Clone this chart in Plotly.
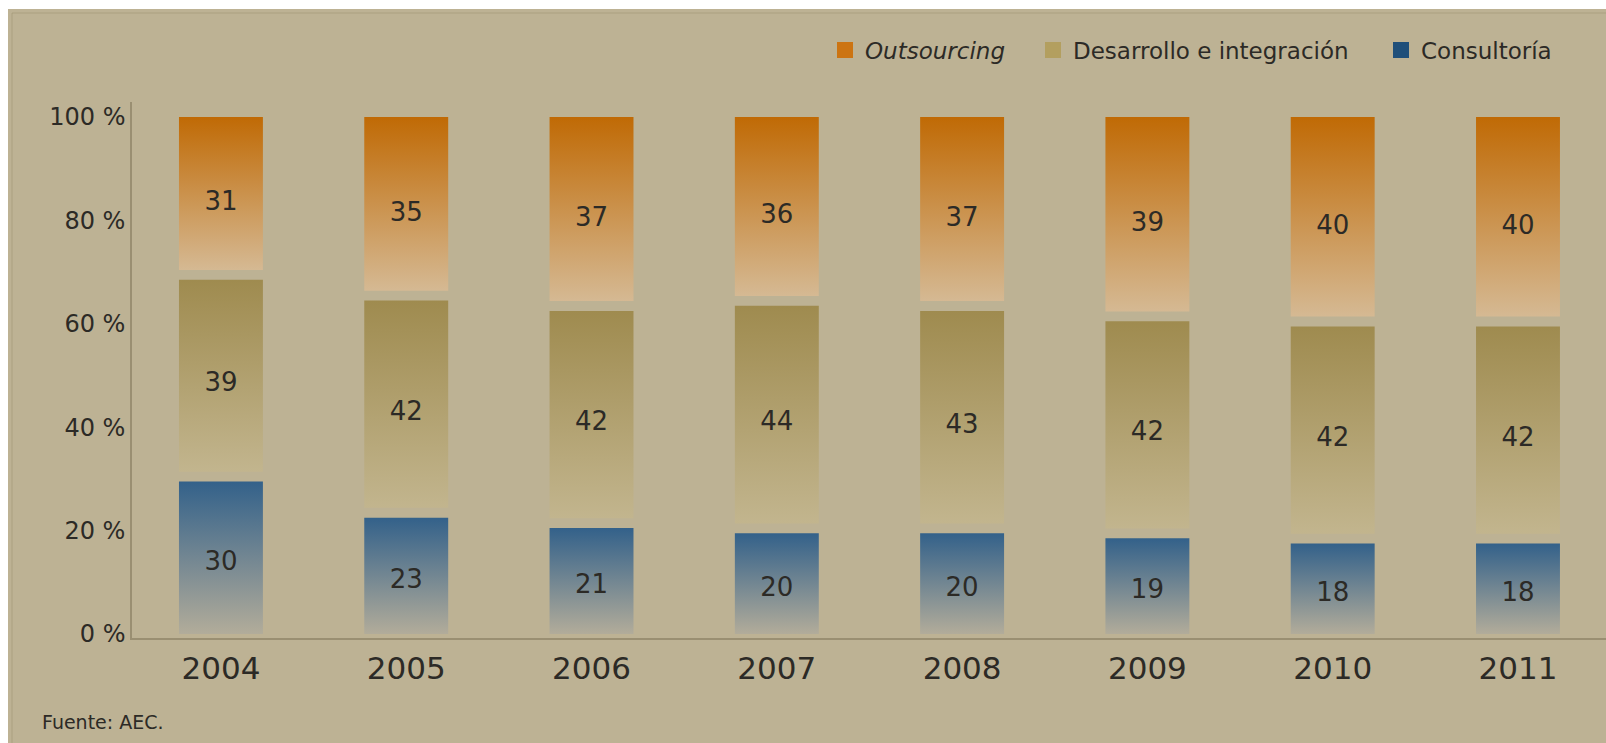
import plotly.graph_objects as go

# Reparto del mercado de servicios TIC por actividad (% sobre el total)
years = ["2004", "2005", "2006", "2007", "2008", "2009", "2010", "2011"]
consultoria = [30, 23, 21, 20, 20, 19, 18, 18]
desarrollo = [39, 42, 42, 44, 43, 42, 42, 42]
outsourcing = [31, 35, 37, 36, 37, 39, 40, 40]

series_names = ["Consultoría", "Desarrollo e integración", "<i>Outsourcing</i>"]
series_values = [consultoria, desarrollo, outsourcing]

y_tick_values = [0, 20, 40, 60, 80, 100]
y_tick_labels = ["0 %", "20 %", "40 %", "60 %", "80 %", "100 %"]

# Styling: (dark top colour, light bottom colour, legend colour)
series_styles = [
    ("#33618a", "#b2ac9a", "#1f4f7a"),
    ("#9f8b4f", "#c2b58e", "#b39f5f"),
    ("#c06a05", "#d5b993", "#cc7412"),
]
legend_ids = ["legend3", "legend2", "legend"]

BG = "#bdb294"
FONT = "DejaVu Sans"
TEXT = "#2c2a26"
BAR_W = 0.453
GAP_BELOW = 0.5   # space left under a segment boundary (% units)
GAP_ABOVE = 1.4   # space left above a segment boundary (% units)

fig = go.Figure()

base = [0] * len(years)
for s, values in enumerate(series_values):
    top_c, bottom_c, _ = series_styles[s]
    for i, v in enumerate(values):
        lo = base[i]
        hi = base[i] + v
        y0 = lo + GAP_ABOVE if lo > 0 else lo
        y1 = hi - GAP_BELOW if hi < 100 else hi
        x0, x1 = i - BAR_W / 2, i + BAR_W / 2
        fig.add_trace(go.Scatter(
            x=[x0, x1, x1, x0, x0],
            y=[y0, y0, y1, y1, y0],
            mode="none",
            fill="toself",
            fillgradient=dict(
                type="vertical",
                colorscale=[[0, bottom_c], [1, top_c]],
                start=y0,
                stop=y1,
            ),
            hoverinfo="skip",
            showlegend=False,
        ))
    # value labels in the middle of each segment
    fig.add_trace(go.Scatter(
        x=list(range(len(years))),
        y=[base[i] + v / 2 - 1.3 for i, v in enumerate(values)],
        mode="text",
        text=[str(v) for v in values],
        textfont=dict(family=FONT, size=26, color=TEXT),
        hoverinfo="skip",
        showlegend=False,
    ))
    base = [base[i] + v for i, v in enumerate(values)]

# legend entries (one legend box per series so each can be placed freely)
for s in [2, 1, 0]:
    fig.add_trace(go.Scatter(
        x=[None], y=[None],
        mode="markers",
        marker=dict(symbol="square", size=16, color=series_styles[s][2]),
        name=series_names[s],
        legend=legend_ids[s],
    ))

PW = 1606 - 132
PH = 638 - 102


def px_x(px):
    return (px - 132) / PW


def px_y(py):
    return (638 - py) / PH


legend_common = dict(
    orientation="h",
    yanchor="middle",
    xanchor="left",
    y=px_y(50),
    bgcolor="rgba(0,0,0,0)",
    borderwidth=0,
    font=dict(family=FONT, size=23, color=TEXT),
)

fig.update_layout(
    width=1606,
    height=743,
    margin=dict(l=132, r=0, t=102, b=105),
    paper_bgcolor="white",
    plot_bgcolor="rgba(0,0,0,0)",
    showlegend=True,
    legend=dict(legend_common, x=px_x(825)),
    legend2=dict(legend_common, x=px_x(1033)),
    legend3=dict(legend_common, x=px_x(1381)),
    xaxis=dict(
        range=[-0.48, 7.475],
        tickmode="array",
        tickvals=list(range(len(years))),
        ticktext=years,
        showgrid=False,
        zeroline=False,
        showline=True,
        linecolor="#9a8f72",
        linewidth=2,
        ticks="",
        ticklabelstandoff=2,
        tickfont=dict(family=FONT, size=31, color=TEXT),
    ),
    yaxis=dict(
        range=[-0.77, 102.9],
        tickmode="array",
        tickvals=y_tick_values,
        ticktext=y_tick_labels,
        showgrid=False,
        zeroline=False,
        showline=True,
        linecolor="#9a8f72",
        linewidth=1.5,
        ticks="",
        tickfont=dict(family=FONT, size=24, color=TEXT),
    ),
    shapes=[
        dict(type="rect", xref="paper", yref="paper",
             x0=px_x(8), x1=px_x(1620), y0=px_y(760), y1=px_y(9),
             fillcolor=BG, line=dict(width=0), layer="below"),
        dict(type="rect", xref="paper", yref="paper",
             x0=px_x(12), x1=px_x(1630), y0=px_y(770), y1=px_y(13),
             fillcolor="rgba(0,0,0,0)",
             line=dict(width=1, color="rgba(150,138,105,0.45)"), layer="below"),
    ],
    annotations=[
        dict(text="Fuente: AEC.", xref="paper", yref="paper",
             x=px_x(40), y=px_y(722), xanchor="left", yanchor="middle",
             showarrow=False, font=dict(family=FONT, size=19, color=TEXT)),
    ],
)

fig.write_html("out.html")
